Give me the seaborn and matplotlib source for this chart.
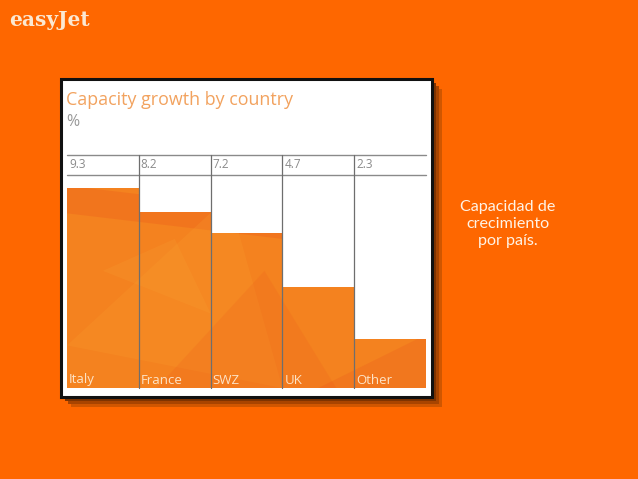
import matplotlib
matplotlib.use("Agg")
import matplotlib.pyplot as plt
import seaborn as sns
import pandas as pd
from matplotlib.patches import Rectangle, Polygon

countries = ["Italy", "France", "SWZ", "UK", "Other"]
growth = [9.3, 8.2, 7.2, 4.7, 2.3]
value_labels = ["9.3", "8.2", "7.2", "4.7", "2.3"]

title = "Capacity growth by country"
unit = "%"
side_note = "Capacidad de\ncrecimiento\npor país."
brand = "easyJet"

sns.set_theme(style="white")
plt.rcParams["font.family"] = ["Open Sans", "DejaVu Sans"]

W, H = 638, 479
fig = plt.figure(figsize=(W / 100, H / 100), dpi=100)
fig.patch.set_facecolor("#FE6700")

def fx(px):
    return px / W

def fy(py):
    return 1 - py / H

# shadow of panel
for off, col in [(10, "#D05600"), (7, "#A84400"), (4, "#7E3300")]:
    fig.patches.append(Rectangle((fx(61 + off), fy(397 + off)), fx(371), 318 / H,
                                 transform=fig.transFigure, facecolor=col,
                                 edgecolor="none", zorder=0))
# white panel with black border
fig.patches.append(Rectangle((fx(61), fy(397)), fx(371), 318 / H,
                             transform=fig.transFigure, facecolor="white",
                             edgecolor="#111111", linewidth=2.2, zorder=1))

df = pd.DataFrame({"country": countries, "growth": growth})

ax = fig.add_axes([fx(67), fy(388), fx(359), (388 - 175) / H])
ax.set_zorder(2)
sns.barplot(data=df, x="country", y="growth", color="#F4821F", width=1.0,
            saturation=1, ax=ax, edgecolor="none")
ax.set_xlim(-0.5, 4.5)
ax.set_ylim(0, 9.9)
ax.axis("off")

# subtle texture: translucent facets clipped to bars
facets = [
    ([(0, 0.95), (1, 0.75), (1, 0.62), (0, 0.82)], "#E8481A", 0.22),
    ([(0, 0.2), (0.45, 0.9), (0.6, 0.0)], "#F9A030", 0.22),
    ([(0.25, 0.0), (0.55, 0.55), (0.75, 0.0)], "#EE5A1C", 0.18),
    ([(0.55, 0.9), (1.0, 0.3), (1.0, 0.8)], "#F99A2A", 0.2),
    ([(0.7, 0.0), (1.0, 0.25), (1.0, 0.0)], "#E9501C", 0.22),
    ([(0.1, 0.55), (0.4, 0.35), (0.3, 0.7)], "#F7A535", 0.2),
]
for bar in ax.patches:
    for pts, col, a in facets:
        poly = Polygon(pts, closed=True, transform=ax.transAxes,
                       facecolor=col, alpha=a, edgecolor="none", zorder=3)
        ax.add_patch(poly)
        poly.set_clip_path(bar)

# header lines and dividers
line_col = "#8A8A8A"
for py in (155, 175):
    fig.add_artist(plt.Line2D([fx(67), fx(426)], [fy(py), fy(py)],
                              transform=fig.transFigure, color=line_col,
                              linewidth=1.0, zorder=5))
for i in range(1, len(countries)):
    xd = ax.transData.transform((i - 0.5, 0))[0] / fig.bbox.width
    fig.add_artist(plt.Line2D([xd, xd], [fy(155), fy(388)],
                              transform=fig.transFigure, color="#6E6E6E",
                              linewidth=0.9, zorder=5))

# value row and category labels
for i, (c, v) in enumerate(zip(countries, value_labels)):
    xl = ax.transData.transform((i - 0.5, 0))[0] / fig.bbox.width + fx(2)
    fig.text(xl, fy(165), v, fontsize=8.5, color="#8A8A8A", va="center",
             ha="left", zorder=6)
    fig.text(xl, fy(380), c, fontsize=9.5, color="#FDE3C6", va="center",
             ha="left", zorder=6)

fig.text(fx(66), fy(100), title, fontsize=12.9, color="#F2A25E",
         va="center", ha="left", zorder=6)
fig.text(fx(66), fy(122), unit, fontsize=11.5, color="#999999",
         va="center", ha="left", zorder=6)

fig.text(fx(508), fy(224), side_note, fontsize=11.6, color="#FFF3E6",
         va="center", ha="center", linespacing=1.28, zorder=6,
         family=["Lato", "DejaVu Sans"])

fig.text(fx(9), fy(20), brand, fontsize=14.5, color="#FBE8D2",
         va="center", ha="left", fontweight="bold",
         family=["DejaVu Serif"], zorder=6)

fig.savefig("out.png", dpi=100, facecolor=fig.get_facecolor())
